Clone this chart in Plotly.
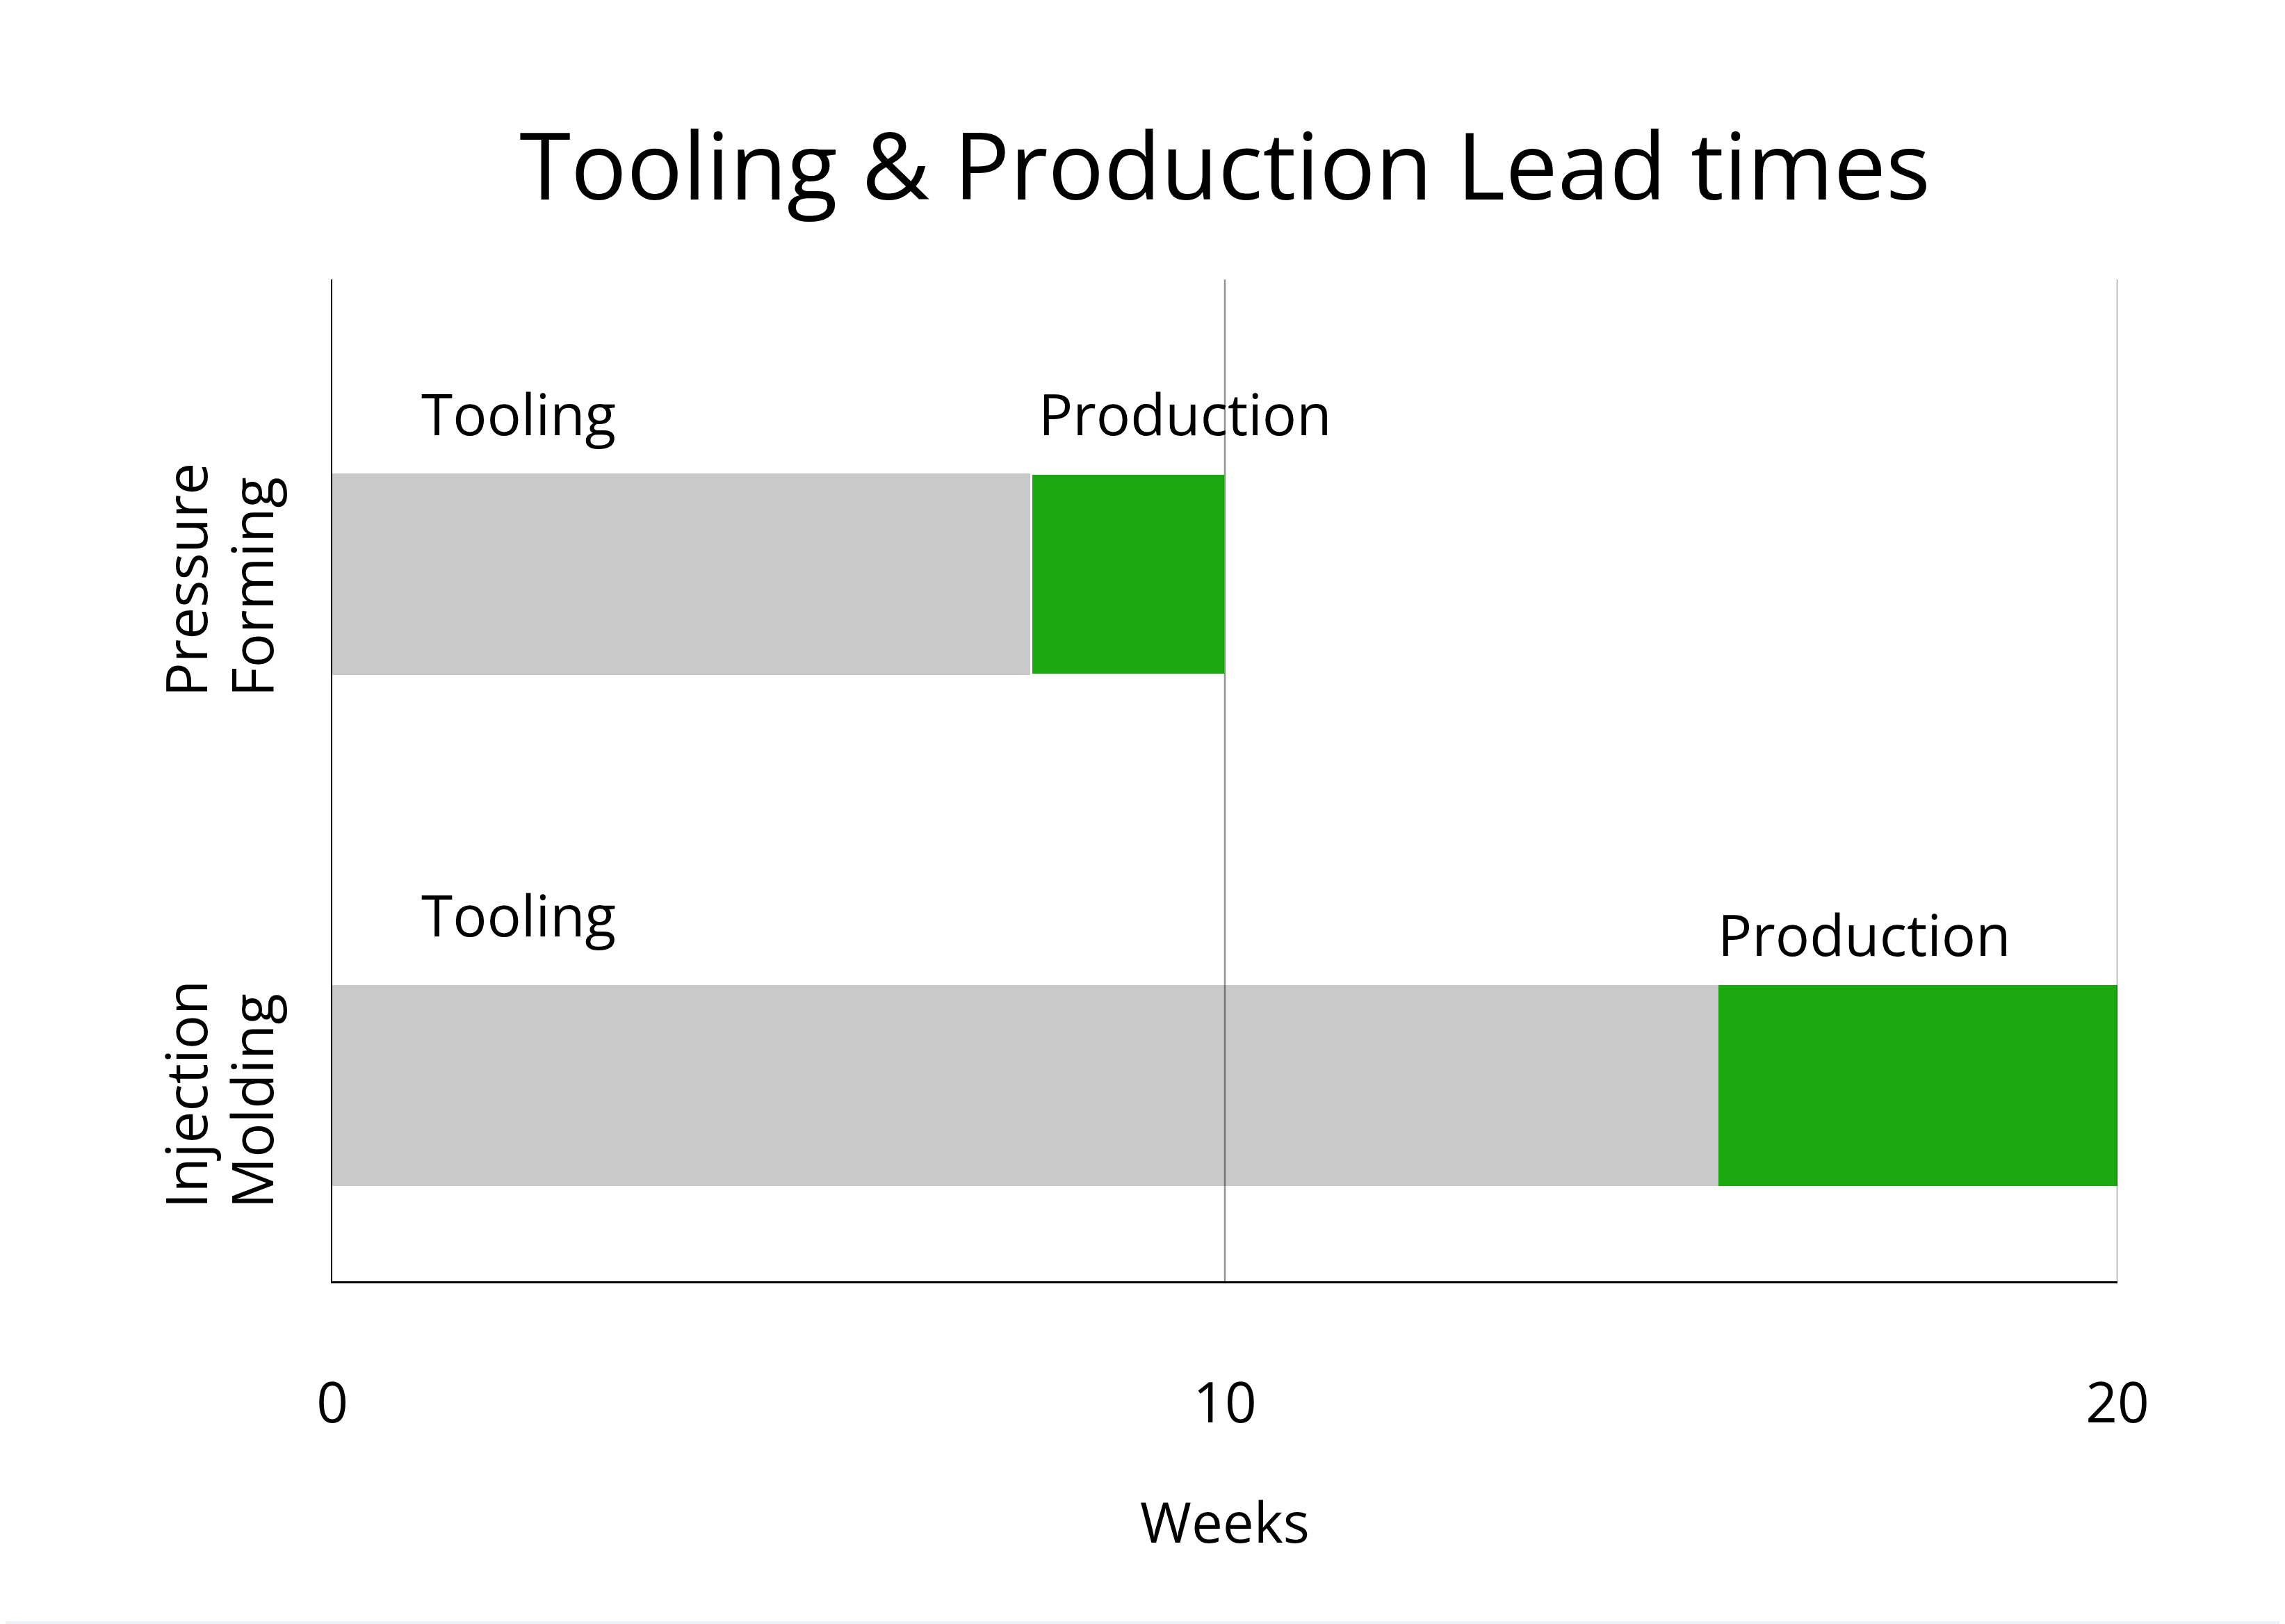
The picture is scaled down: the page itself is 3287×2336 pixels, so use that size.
import plotly.graph_objects as go

categories = ["Pressure Forming", "Injection Molding"]
category_labels = ["Pressure<br>Forming", "Injection<br>Molding"]
tooling_weeks = [7.83, 15.53]
production_weeks = [2.17, 4.47]
x_ticks = [0, 10, 20]
x_tick_labels = ["0", "10", "20"]
tooling_label_x = [0.98, 0.98]
production_label_x = [7.9, 15.51]

FONT = "Open Sans"
GRAY = "#c9c9c9"
GREEN = "#19a90e"

fig = go.Figure()
fig.add_trace(go.Bar(
    y=categories, x=tooling_weeks, orientation="h", name="Tooling",
    marker=dict(color=GRAY, line=dict(width=0)), width=0.393,
))
fig.add_trace(go.Bar(
    y=categories, x=production_weeks, orientation="h", name="Production",
    marker=dict(color=GREEN, line=dict(color="white", width=[3, 0])), width=0.393,
))

# card background
fig.add_shape(type="rect", xref="paper", yref="paper",
              x0=-0.183, x1=1.0919, y0=-0.3393, y1=1.2734,
              fillcolor="white", line=dict(width=0), layer="below")

# vertical grid lines above bars
for t in x_ticks[1:]:
    fig.add_shape(type="line", xref="x", yref="paper", x0=t, x1=t, y0=0, y1=1,
                  line=dict(color="rgba(0,0,0,0.42)", width=2.5), layer="above")

# segment labels
ann_specs = [
    (categories[0], tooling_label_x[0], "Tooling", 232),
    (categories[0], production_label_x[0], "Production", 232),
    (categories[1], tooling_label_x[1], "Tooling", 247),
    (categories[1], production_label_x[1], "Production", 219),
]
for cat, xv, txt, ys in ann_specs:
    fig.add_annotation(x=xv, y=cat, xref="x", yref="y", text=txt, showarrow=False,
                       xanchor="left", yanchor="middle", yshift=ys,
                       font=dict(family=FONT, size=82, color="black"))

# category labels (rotated, one annotation per line, start-aligned at bottom)
line_x = [-0.0825, -0.0455]
for cat, lab in zip(categories, category_labels):
    for lx, line in zip(line_x, lab.split("<br>")):
        fig.add_annotation(x=lx, y=cat, xref="paper", yref="y", text=line,
                           showarrow=False, textangle=-90,
                           xanchor="center", yanchor="bottom", yshift=-179,
                           font=dict(family=FONT, size=82, color="black"))

fig.update_layout(
    width=3279, height=2328,
    margin=dict(l=470, r=241, t=394, b=493),
    paper_bgcolor="#eef1f5", plot_bgcolor="white",
    barmode="stack", showlegend=False,
    title=dict(text="Tooling & Production Lead times", x=0.5, xref="paper",
               y=0.9005, yref="container", yanchor="middle",
               font=dict(family=FONT, size=134, color="black")),
    font=dict(family=FONT, size=82, color="black"),
)
fig.update_xaxes(range=[0, 20], tickvals=x_ticks, ticktext=x_tick_labels,
                 showgrid=False, zeroline=False, showline=True, linecolor="black",
                 linewidth=3, ticks="", ticklabelstandoff=104,
                 tickfont=dict(family=FONT, size=80, color="black"),
                 title=dict(text="Weeks", standoff=95,
                            font=dict(family=FONT, size=80, color="black")))
fig.update_yaxes(categoryorder="array", categoryarray=categories[::-1],
                 range=[-0.382, 1.576], showticklabels=False,
                 showgrid=False, zeroline=False, showline=True,
                 linecolor="black", linewidth=2, ticks="")

fig.write_html("out.html")
